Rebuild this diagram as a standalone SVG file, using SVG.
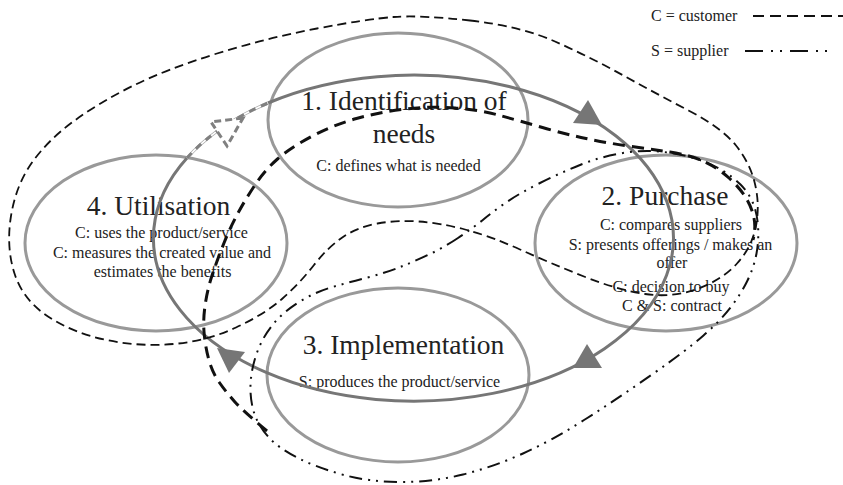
<svg xmlns="http://www.w3.org/2000/svg" width="843" height="485" viewBox="0 0 843 485">
<style>
  .ell { fill: none; stroke: #999999; stroke-width: 3; }
  .t { font-family: "Liberation Serif", "Times New Roman", serif; fill: #222; text-anchor: middle; }
  .title { font-size: 27.5px; }
  .small { font-size: 16px; }
  .leg { font-family: "Liberation Serif", "Times New Roman", serif; fill: #222; font-size: 16px; }
  .loop { fill: none; stroke: #767676; stroke-width: 3; }
  .head { fill: #767676; stroke: none; }
  .cust { fill: none; stroke: #111; stroke-width: 1.8; stroke-dasharray: 9 5; }
  .custThick { fill: none; stroke: #111; stroke-width: 3; stroke-dasharray: 12 7; }
  .supp { fill: none; stroke: #111; stroke-width: 2; stroke-dasharray: 13 6 2 6 2 6; }
</style>

<g id="node-identification">
  <ellipse class="ell" cx="398" cy="120" rx="130" ry="87"/>
  <text class="t title" x="404" y="110">1. Identification of</text>
  <text class="t title" x="404" y="143">needs</text>
  <text class="t small" x="398.5" y="171">C: defines what is needed</text>
</g>

<g id="node-purchase">
  <ellipse class="ell" cx="666" cy="243" rx="131" ry="88"/>
  <text class="t title" x="665" y="205">2. Purchase</text>
  <text class="t small" x="671" y="230">C: compares suppliers</text>
  <text class="t small" x="670.5" y="250">S: presents offerings / makes an</text>
  <text class="t small" x="672" y="268">offer</text>
  <text class="t small" x="671" y="292">C: decision to buy</text>
  <text class="t small" x="672" y="311">C &amp; S: contract</text>
</g>

<g id="node-implementation">
  <ellipse class="ell" cx="398" cy="375" rx="131" ry="87"/>
  <text class="t title" x="403.5" y="354">3. Implementation</text>
  <text class="t small" x="399.5" y="387">S: produces the product/service</text>
</g>

<g id="node-utilisation">
  <ellipse class="ell" cx="156" cy="243" rx="131" ry="88"/>
  <text class="t title" x="158.5" y="215">4. Utilisation</text>
  <text class="t small" x="161.5" y="238">C: uses the product/service</text>
  <text class="t small" x="162" y="258">C: measures the created value and</text>
  <text class="t small" x="162.5" y="277">estimates the benefits</text>
</g>

<g id="legend">
  <text class="leg" x="651" y="21">C = customer</text>
  <line x1="753" y1="16" x2="843" y2="16" stroke="#111" stroke-width="2" stroke-dasharray="11 6"/>
  <text class="leg" x="651" y="56">S = supplier</text>
  <line x1="745" y1="51" x2="830" y2="51" stroke="#111" stroke-width="2" stroke-dasharray="18 8 2 7 2 8"/>
</g>

<g id="connectors">
  <!-- main cycle -->
  <path class="loop" d="M 268 103 A 260 163 0 1 1 187 158"/>
  <path d="M 187 158 A 260 163 0 0 1 268 103" fill="none" stroke="#aaaaaa" stroke-width="3"/>
  <path d="M 187 158 A 260 163 0 0 1 268 103" fill="none" stroke="#ffffff" stroke-width="1.5"/>
  <path d="M 187 158 A 260 163 0 0 1 268 103" fill="none" stroke="#808080" stroke-width="3" stroke-dasharray="7 6"/>
  <polygon class="head" points="602,125 588,100 573,123"/>
  <polygon class="head" points="573,368 587,344 602,368"/>
  <polygon class="head" points="217,348 245,352 229,373"/>
  <polygon points="243,118 211,122 227,146" fill="#ffffff" stroke="#808080" stroke-width="3" stroke-dasharray="7 4"/>

  <!-- customer outer loop -->
  <path class="cust" d="M 470 20.5 Q 520 26 555 41.5 Q 590 57 622.5 75 Q 655 93 688.5 110.5 Q 722 128 736 145.5 Q 750 163 755 184 Q 760 205 756 226 Q 752 247 737 263.5 Q 722 280 697 289 Q 672 298 645 294 Q 618 290 584 276.5 Q 550 263 520 249.5 Q 490 236 465 229.5 Q 440 223 418.5 221.5 Q 397 220 377.5 223.5 Q 358 227 343 237 Q 328 247 314 265 Q 300 283 282.5 298.5 Q 265 314 236 327.5 Q 207 341 173.5 344 Q 140 347 106.5 340 Q 73 333 48 316.5 Q 23 300 14.5 273.5 Q 6 247 11 216 Q 16 185 32 162.5 Q 48 140 74 121 Q 100 102 133.5 85.5 Q 167 69 217 53.5 Q 267 38 317 28.5 Q 367 19 393.5 17 Q 420 15 470 20.5 Z"/>

  <!-- customer thick path -->
  <path class="custThick" d="M 267 431 Q 243 411 234.5 401.5 Q 226 392 219 382 Q 212 372 208.5 358.5 Q 205 345 204 331.5 Q 203 318 205.5 302.5 Q 208 287 213 272.5 Q 218 258 224 243 Q 230 228 237.5 214 Q 245 200 255 185 Q 265 170 277.5 159 Q 290 148 311.5 136.5 Q 333 125 356.5 118.5 Q 380 112 405 109 Q 430 106 455 108 Q 480 110 500 115.5 Q 520 121 542.5 127.5 Q 565 134 586 138.5 Q 607 143 628.5 146 Q 650 149 670 152 Q 690 155 704 161.5 Q 718 168 729 178 Q 740 188 746 198 Q 752 208 754 218 Q 756 228 753 240"/>

  <!-- supplier loop -->
  <path class="supp" d="M 458 238 Q 443 248 428 255 Q 413 262 399 267.5 Q 385 273 367.5 277.5 Q 350 282 332.5 287 Q 315 292 299 302 Q 283 312 272.5 325 Q 262 338 256.5 354 Q 251 370 250.5 385 Q 250 400 254 412.5 Q 258 425 268 436.5 Q 278 448 298 458 Q 318 468 344 475 Q 370 482 401.5 482 Q 433 482 463 474.5 Q 493 467 523 453.5 Q 553 440 586.5 418.5 Q 620 397 653.5 373.5 Q 687 350 703.5 335.5 Q 720 321 730.5 307.5 Q 741 294 747.5 280.5 Q 754 267 756.5 253.5 Q 759 240 758 226 Q 757 212 752.5 202 Q 748 192 740.5 184.5 Q 733 177 721.5 170 Q 710 163 693.5 158 Q 677 153 658.5 151.5 Q 640 150 620 153.5 Q 600 157 580 165 Q 560 173 540 183 Q 520 193 507.5 201.5 Q 495 210 484 219 Q 473 228 458 238 Z"/>
</g>
</svg>
